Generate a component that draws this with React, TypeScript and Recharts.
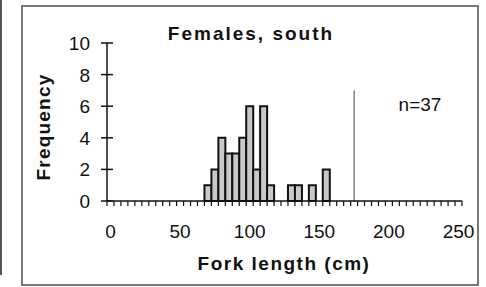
import { Bar, BarChart, ReferenceLine, XAxis, YAxis } from 'recharts'

// 5 cm length classes
const bins = [
  0, 5, 10, 15, 20, 25, 30, 35, 40, 45,
  50, 55, 60, 65, 70, 75, 80, 85, 90, 95,
  100, 105, 110, 115, 120, 125, 130, 135, 140, 145,
  150, 155, 160, 165, 170, 175, 180, 185, 190, 195,
  200, 205, 210, 215, 220, 225, 230, 235, 240, 245,
  250
]

const counts = [
  0, 0, 0, 0, 0, 0, 0, 0, 0, 0,
  0, 0, 0, 0, 1, 2, 4, 3, 3, 4,
  6, 2, 6, 1, 0, 0, 1, 1, 0, 1,
  0, 2, 0, 0, 0, 0, 0, 0, 0, 0,
  0, 0, 0, 0, 0, 0, 0, 0, 0, 0,
  0
]

const xLabels = [0, 50, 100, 150, 200, 250]
const yTicks = [0, 2, 4, 6, 8, 10]

const cutoffLength = 175
const cutoffTop = 7
const sampleSize = 37

const data = bins.map((b, i) => ({ bin: b, count: counts[i] }))

const font = '"Liberation Sans", Arial, sans-serif'

const XTick = (props: any) => {
  const { x, y, payload, index } = props
  const half = payload.offset || 3.48
  const showLabel = xLabels.includes(payload.value)
  return (
    <g>
      <line x1={x - half} y1={y} x2={x - half} y2={y + 5} stroke='#111' strokeWidth={1.2} />
      {index === bins.length - 1 && (
        <line x1={x + half} y1={y} x2={x + half} y2={y + 5} stroke='#111' strokeWidth={1.2} />
      )}
      {showLabel && (
        <text x={x} y={y + 37} textAnchor='middle' fontSize={19} fontFamily={font} fill='#111'>
          {payload.value}
        </text>
      )}
    </g>
  )
}

const YTick = (props: any) => {
  const { x, y, payload } = props
  return (
    <g>
      <line x1={x - 6} y1={y} x2={x + 6} y2={y} stroke='#111' strokeWidth={1.5} />
      <text x={x - 17} y={y + 7} textAnchor='end' fontSize={19} fontFamily={font} fill='#111'>
        {payload.value}
      </text>
    </g>
  )
}

export default function App() {
  return (
    <div style={{ position: 'absolute', left: 0, top: 0, width: 486, height: 287, background: '#fff' }}>
      <div style={{ position: 'absolute', left: 0, top: 0, width: 2, height: 275, background: '#555' }} />
      <div
        style={{
          position: 'absolute',
          left: 21,
          top: 5,
          width: 454,
          height: 277,
          border: '2px solid #777'
        }}
      />
      <div style={{ position: 'absolute', left: 0, top: 0 }}>
        <BarChart
          width={486}
          height={287}
          data={data}
          barCategoryGap={0}
          margin={{ top: 43, right: 24, left: 32, bottom: 11 }}
        >
          <XAxis
            dataKey='bin'
            interval={0}
            height={75}
            tickSize={0}
            tickMargin={0}
            tickLine={false}
            axisLine={{ stroke: '#111', strokeWidth: 1.5 }}
            tick={<XTick />}
          />

          <YAxis
            type='number'
            domain={[0, 10]}
            ticks={yTicks}
            width={75}
            tickSize={0}
            tickMargin={0}
            tickLine={false}
            axisLine={{ stroke: '#111', strokeWidth: 1.5 }}
            tick={<YTick />}
          />

          <ReferenceLine
            segment={[{ x: cutoffLength, y: 0 }, { x: cutoffLength, y: cutoffTop }]}
            stroke='#444'
            strokeWidth={1}
          />

          <Bar
            dataKey='count'
            fill='#c9c9c9'
            stroke='#111'
            strokeWidth={2}
            isAnimationActive={false}
          />

          <text x={251} y={40} textAnchor='middle' fontSize={19} fontWeight='bold' letterSpacing={2} fontFamily={font} fill='#111'>
            Females, south
          </text>
          <text x={420} y={111} textAnchor='middle' fontSize={19} fontFamily={font} fill='#111'>
            n={sampleSize}
          </text>
          <text
            transform='translate(50, 127) rotate(-90)'
            textAnchor='middle'
            fontSize={19}
            fontWeight='bold'
            letterSpacing={1.2}
            fontFamily={font}
            fill='#111'
          >
            Frequency
          </text>
          <text x={284} y={270} textAnchor='middle' fontSize={19} fontWeight='bold' letterSpacing={1.5} fontFamily={font} fill='#111'>
            Fork length (cm)
          </text>
        </BarChart>
      </div>
    </div>
  )
}
